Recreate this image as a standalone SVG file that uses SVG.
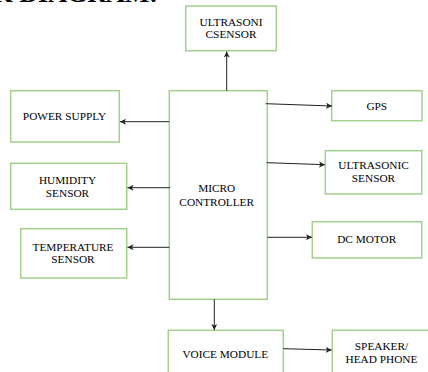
<svg xmlns="http://www.w3.org/2000/svg" width="428" height="372" viewBox="0 0 428 372">
<style>
.box{fill:#fff;stroke:#a3d08a;stroke-width:1.5}
.t{font-family:"Liberation Serif","Times New Roman",serif;font-size:11.3px;fill:#000;text-anchor:middle}
.h{font-family:"Liberation Serif","Times New Roman",serif;font-weight:bold;font-size:26px;fill:#000;text-anchor:end}
.c{stroke:#222;stroke-width:1;fill:none;marker-end:url(#ah)}
</style>
<defs>
<marker id="ah" markerWidth="8" markerHeight="8" refX="6" refY="3" orient="auto" markerUnits="userSpaceOnUse">
<path d="M0,0 L6,3 L0,6 L1.5,3 Z" fill="#222"/>
</marker>
</defs>
<rect width="428" height="372" fill="#fff"/>
<text class="h" x="158" y="1.5">BLOCK DIAGRAM:</text>
<g id="ultrasoni-top"><rect class="box" x="185.7" y="6" width="90.6" height="44.7"/><text class="t" x="231" y="25.8">ULTRASONI</text><text class="t" x="231" y="37.8">CSENSOR</text></g>
<g id="mc"><rect class="box" x="169.3" y="90.7" width="98" height="208.6"/><text class="t" x="216.7" y="191.8">MICRO</text><text class="t" x="216.7" y="205.8">CONTROLLER</text></g>
<g id="power"><rect class="box" x="10.7" y="90.7" width="108.6" height="51.3"/><text class="t" x="64.5" y="119.8">POWER SUPPLY</text></g>
<g id="gps"><rect class="box" x="331.7" y="90.7" width="90.3" height="30"/><text class="t" x="376.8" y="110">GPS</text></g>
<g id="humidity"><rect class="box" x="10.7" y="163.3" width="116" height="46"/><text class="t" x="67.5" y="184.2">HUMIDITY</text><text class="t" x="67.5" y="196.8">SENSOR</text></g>
<g id="ultrasonic"><rect class="box" x="325.3" y="150.7" width="96.4" height="43.3"/><text class="t" x="373.5" y="169.3">ULTRASONIC</text><text class="t" x="373.5" y="182.3">SENSOR</text></g>
<g id="temperature"><rect class="box" x="20.7" y="228.7" width="106" height="49.3"/><text class="t" x="73" y="250.8">TEMPERATURE</text><text class="t" x="73" y="263.3">SENSOR</text></g>
<g id="dcmotor"><rect class="box" x="312.3" y="221.7" width="109.4" height="36.3"/><text class="t" x="366.7" y="243.2">DC MOTOR</text></g>
<g id="voice"><rect class="box" x="168.3" y="330.3" width="115" height="50"/><text class="t" x="225.3" y="357.8">VOICE MODULE</text></g>
<g id="speaker"><rect class="box" x="332.3" y="330.3" width="100" height="50"/><text class="t" x="381.5" y="350">SPEAKER/</text><text class="t" x="381.5" y="362.7">HEAD PHONE</text></g>
<g id="connectors">
<line class="c" x1="226.7" y1="90.7" x2="226.7" y2="51.5"/>
<line class="c" x1="169.3" y1="121.7" x2="120" y2="121.7"/>
<line class="c" x1="265.7" y1="103.7" x2="332" y2="106"/>
<line class="c" x1="170" y1="187.7" x2="127.5" y2="187.7"/>
<line class="c" x1="266.7" y1="162.7" x2="325" y2="164.7"/>
<line class="c" x1="169.3" y1="247.3" x2="127.5" y2="247.3"/>
<line class="c" x1="267.3" y1="237.3" x2="312" y2="237.3"/>
<line class="c" x1="214.3" y1="299.3" x2="214.3" y2="330"/>
<line class="c" x1="283.3" y1="348.7" x2="331.7" y2="350"/>
</g>
</svg>
